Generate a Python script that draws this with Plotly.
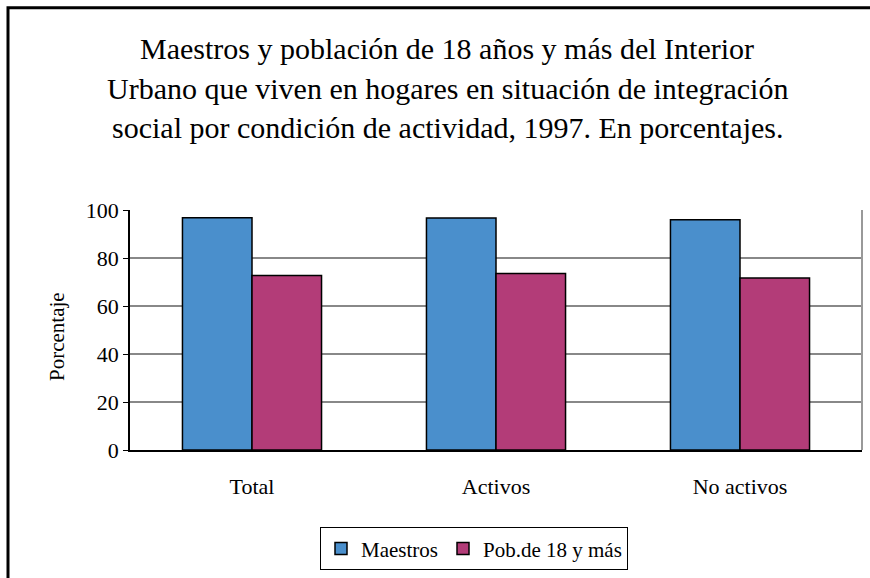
import plotly.graph_objects as go

categories = ["Total", "Activos", "No activos"]
maestros = [96.8, 96.7, 95.9]
poblacion = [72.7, 73.5, 71.7]
series_names = ["Maestros", "Pob.de 18 y más"]
y_ticks = [0, 20, 40, 60, 80, 100]
title_lines = [
    "Maestros y población de 18 años y más del Interior",
    "Urbano que viven en hogares en situación de integración",
    "social por condición de actividad, 1997. En porcentajes.",
]

W, H = 870, 578
L, R, T, B = 130, 8, 210, 126
pw, ph = W - L - R, H - T - B

def px(x):
    return (x - L) / pw

def py(y):
    return (H - B - y) / ph

font = "Liberation Serif, Times New Roman, serif"

fig = go.Figure()
fig.add_trace(go.Bar(x=categories, y=maestros, name=series_names[0],
                     marker=dict(color="#4a8fcc", line=dict(color="black", width=1.5))))
fig.add_trace(go.Bar(x=categories, y=poblacion, name=series_names[1],
                     marker=dict(color="#b33c78", line=dict(color="black", width=1.5))))

for i, line in enumerate(title_lines):
    fig.add_annotation(text=line, x=px(447), y=py(47 + 40 * i), xref="paper", yref="paper",
                       showarrow=False, xanchor="center", yanchor="middle",
                       font=dict(family=font, size=30, color="black"))

fig.add_annotation(text="Porcentaje", x=px(57), y=py(338), xref="paper", yref="paper",
                   showarrow=False, textangle=-90, xanchor="center", yanchor="middle",
                   font=dict(family=font, size=21, color="black"))

# outer frame
fig.add_shape(type="rect", xref="paper", yref="paper",
              x0=px(8), x1=px(880), y0=py(600), y1=py(6),
              line=dict(color="black", width=3), layer="below")

fig.update_layout(
    width=W, height=H,
    margin=dict(l=L, r=R, t=T, b=B),
    paper_bgcolor="white", plot_bgcolor="white",
    barmode="group", bargap=0.43, bargroupgap=0,
    showlegend=True,
    legend=dict(orientation="h", x=px(474), xanchor="center", y=py(530), yanchor="top",
                bordercolor="black", borderwidth=1, bgcolor="white",
                font=dict(family=font, size=21, color="black"),
                itemwidth=30, tracegroupgap=0),
    font=dict(family=font, color="black"),
)
fig.update_xaxes(showline=True, linecolor="black",
                 linewidth=1.5, mirror=False, ticks="", showgrid=False,
                 ticklabelstandoff=16,
                 tickfont=dict(family=font, size=22, color="black"))
fig.update_yaxes(range=[0, 100], tickvals=y_ticks, showline=True, linecolor="black",
                 linewidth=1.5, ticks="outside", ticklen=5, tickcolor="black",
                 showgrid=True, gridcolor="#888888", gridwidth=1.5, zeroline=False,
                 tickfont=dict(family=font, size=22, color="black"))
# right border of plot area in gray
fig.add_shape(type="line", xref="paper", yref="paper", x0=1, x1=1, y0=0, y1=1,
              line=dict(color="#999999", width=2))

fig.write_html("out.html", config={"displayModeBar": False},
               post_script="document.body.style.margin='0';")
